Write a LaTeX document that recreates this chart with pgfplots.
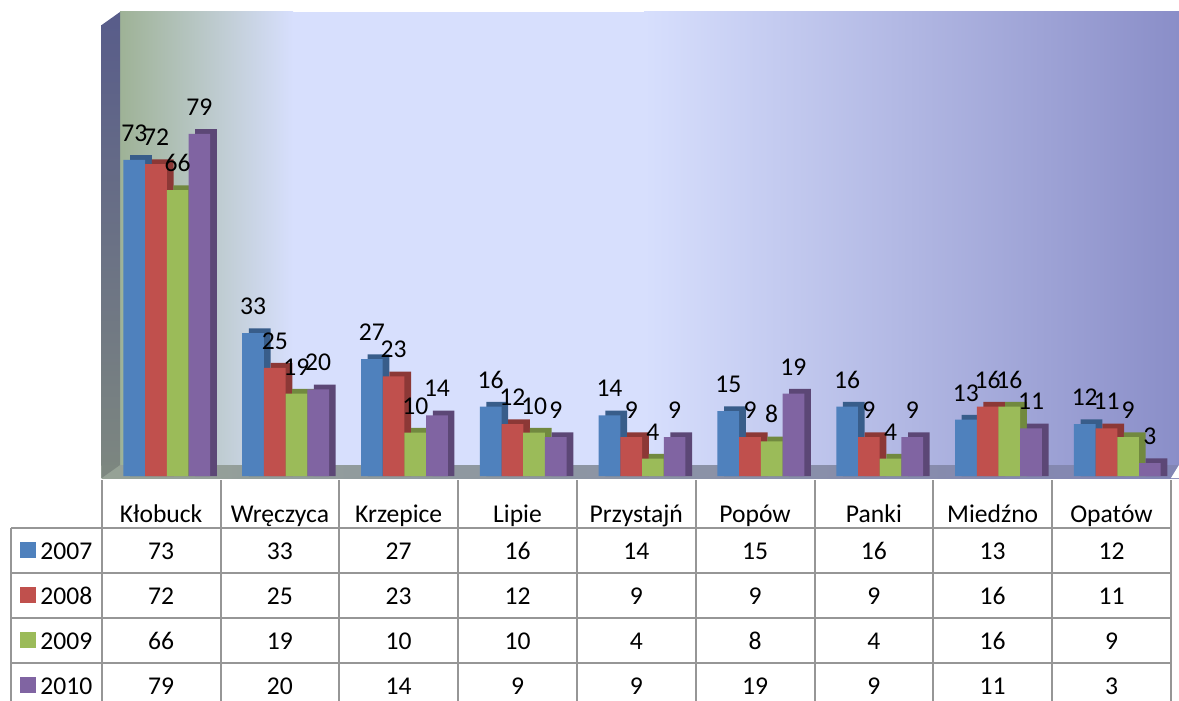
\documentclass[border=0pt]{standalone}
\usepackage{pgfplots}
\pgfplotsset{compat=1.18}
\usepackage{pgfplotstable}
\usepackage{fontspec}
\setmainfont{Carlito}
\definecolor{bA}{RGB}{79,129,189}
\definecolor{bAd}{RGB}{56,93,138}
\definecolor{rA}{RGB}{192,80,77}
\definecolor{rAd}{RGB}{140,56,54}
\definecolor{gA}{RGB}{155,187,89}
\definecolor{gAd}{RGB}{113,137,63}
\definecolor{pA}{RGB}{128,100,162}
\definecolor{pAd}{RGB}{92,71,118}
\definecolor{wG}{RGB}{158,178,150}
\definecolor{wL}{RGB}{215,223,253}
\definecolor{wR}{RGB}{138,142,200}
\definecolor{lwT}{RGB}{88,92,138}
\definecolor{lwB}{RGB}{125,135,128}
\definecolor{fL}{RGB}{150,162,150}
\definecolor{fM}{RGB}{162,168,192}
\definecolor{fR}{RGB}{130,133,180}
\definecolor{tgray}{RGB}{150,150,150}
\newcommand\tf{\fontsize{12.8}{15}\selectfont}
\pgfplotstableread{
x a b c d
0 73 72 66 79
1 33 25 19 20
2 27 23 10 14
3 16 12 10 9
4 14 9 4 9
5 15 9 8 19
6 16 9 4 9
7 13 16 16 11
8 12 11 9 3
}\data
\begin{document}
\begin{tikzpicture}
\useasboundingbox (0,0) rectangle (589.5pt,-350.5pt);
\begin{scope}[x=0.5pt,y=-0.5pt]
\shade[left color=wG, right color=wL] (120,12) rectangle (293,465);
\fill[wL] (292.5,12) rectangle (644.5,465);
\shade[left color=wL, right color=wR] (644,12) rectangle (1179,465);
\shade[top color=lwT, bottom color=lwB] (101.7,25) -- (120,12) -- (120,465) -- (101.7,478) -- cycle;
\shade[left color=fL, middle color=fM, right color=fR] (101.7,465) rectangle (1179,478);
\fill[white] (1171,478) -- (1179,465) -- (1179,478) -- cycle;
\fill[lwB] (101.7,478) -- (101.7,465) -- (120,465) -- cycle;
\end{scope}
\begin{axis}[at={(50.85pt,-239pt)}, anchor=south west, scale only axis,
  width=534.65pt, height=233pt, xmin=-0.5, xmax=8.5, ymin=-0.46, ymax=107.16,
  hide axis, clip=false, /pgf/number format/assume math mode=true,
  every node near coord/.append style={font=\tf, inner sep=0pt, anchor=south, yshift=9pt, text=black}]
\addplot[ybar, bar width=0.1827, bar shift=-0.170, fill=bAd, draw=none] table[x=x, y expr=\thisrow{a}+1.1]{\data};
\addplot[ybar, bar width=0.1827, bar shift=0.013, fill=rAd, draw=none] table[x=x, y expr=\thisrow{b}+1.1]{\data};
\addplot[ybar, bar width=0.1827, bar shift=0.195, fill=gAd, draw=none] table[x=x, y expr=\thisrow{c}+1.1]{\data};
\addplot[ybar, bar width=0.1827, bar shift=0.378, fill=pAd, draw=none] table[x=x, y expr=\thisrow{d}+1.1]{\data};
\addplot[ybar, bar width=0.1827, bar shift=-0.226, fill=bA, draw=none, nodes near coords, every node near coord/.append style={xshift=-13.43pt}] table[x=x, y=a]{\data};
\addplot[ybar, bar width=0.1827, bar shift=-0.043, fill=rA, draw=none, nodes near coords, every node near coord/.append style={xshift=-2.55pt}] table[x=x, y=b]{\data};
\addplot[ybar, bar width=0.1827, bar shift=0.139, fill=gA, draw=none, nodes near coords, every node near coord/.append style={xshift=8.26pt}] table[x=x, y=c]{\data};
\addplot[ybar, bar width=0.1827, bar shift=0.322, fill=pA, draw=none, nodes near coords, every node near coord/.append style={xshift=19.13pt}] table[x=x, y=d]{\data};
\end{axis}
\begin{scope}[x=0.5pt,y=-0.5pt]
\foreach \yy in {528,573,618,663} \draw[tgray, line width=1pt] (11,\yy) -- (1171,\yy);
\draw[tgray, line width=1pt] (11,528) -- (11,710);
\foreach \k in {0,...,9} \draw[tgray, line width=1pt] (101.7+118.8*\k,480) -- (101.7+118.8*\k,710);
\foreach \n [count=\i from 0] in {Kłobuck,Wręczyca,Krzepice,Lipie,Przystajń,Popów,Panki,Miedźno,Opatów}
  \node[anchor=base, font=\tf, inner sep=0pt] at (161.1+118.8*\i,522) {\n};
\foreach \yr/\col/\vals [count=\r from 0] in {2007/bA/{73,33,27,16,14,15,16,13,12},2008/rA/{72,25,23,12,9,9,9,16,11},2009/gA/{66,19,10,10,4,8,4,16,9},2010/pA/{79,20,14,9,9,19,9,11,3}}{
  \fill[\col] (20,541.5+45*\r) rectangle ++(16,16);
  \node[anchor=base west, font=\tf, inner sep=0pt] at (40,559+45*\r) {\yr};
  \foreach \v [count=\i from 0] in \vals
    \node[anchor=base, font=\tf, inner sep=0pt] at (161.1+118.8*\i,559+45*\r) {\v};
}
\end{scope}
\end{tikzpicture}
\end{document}
